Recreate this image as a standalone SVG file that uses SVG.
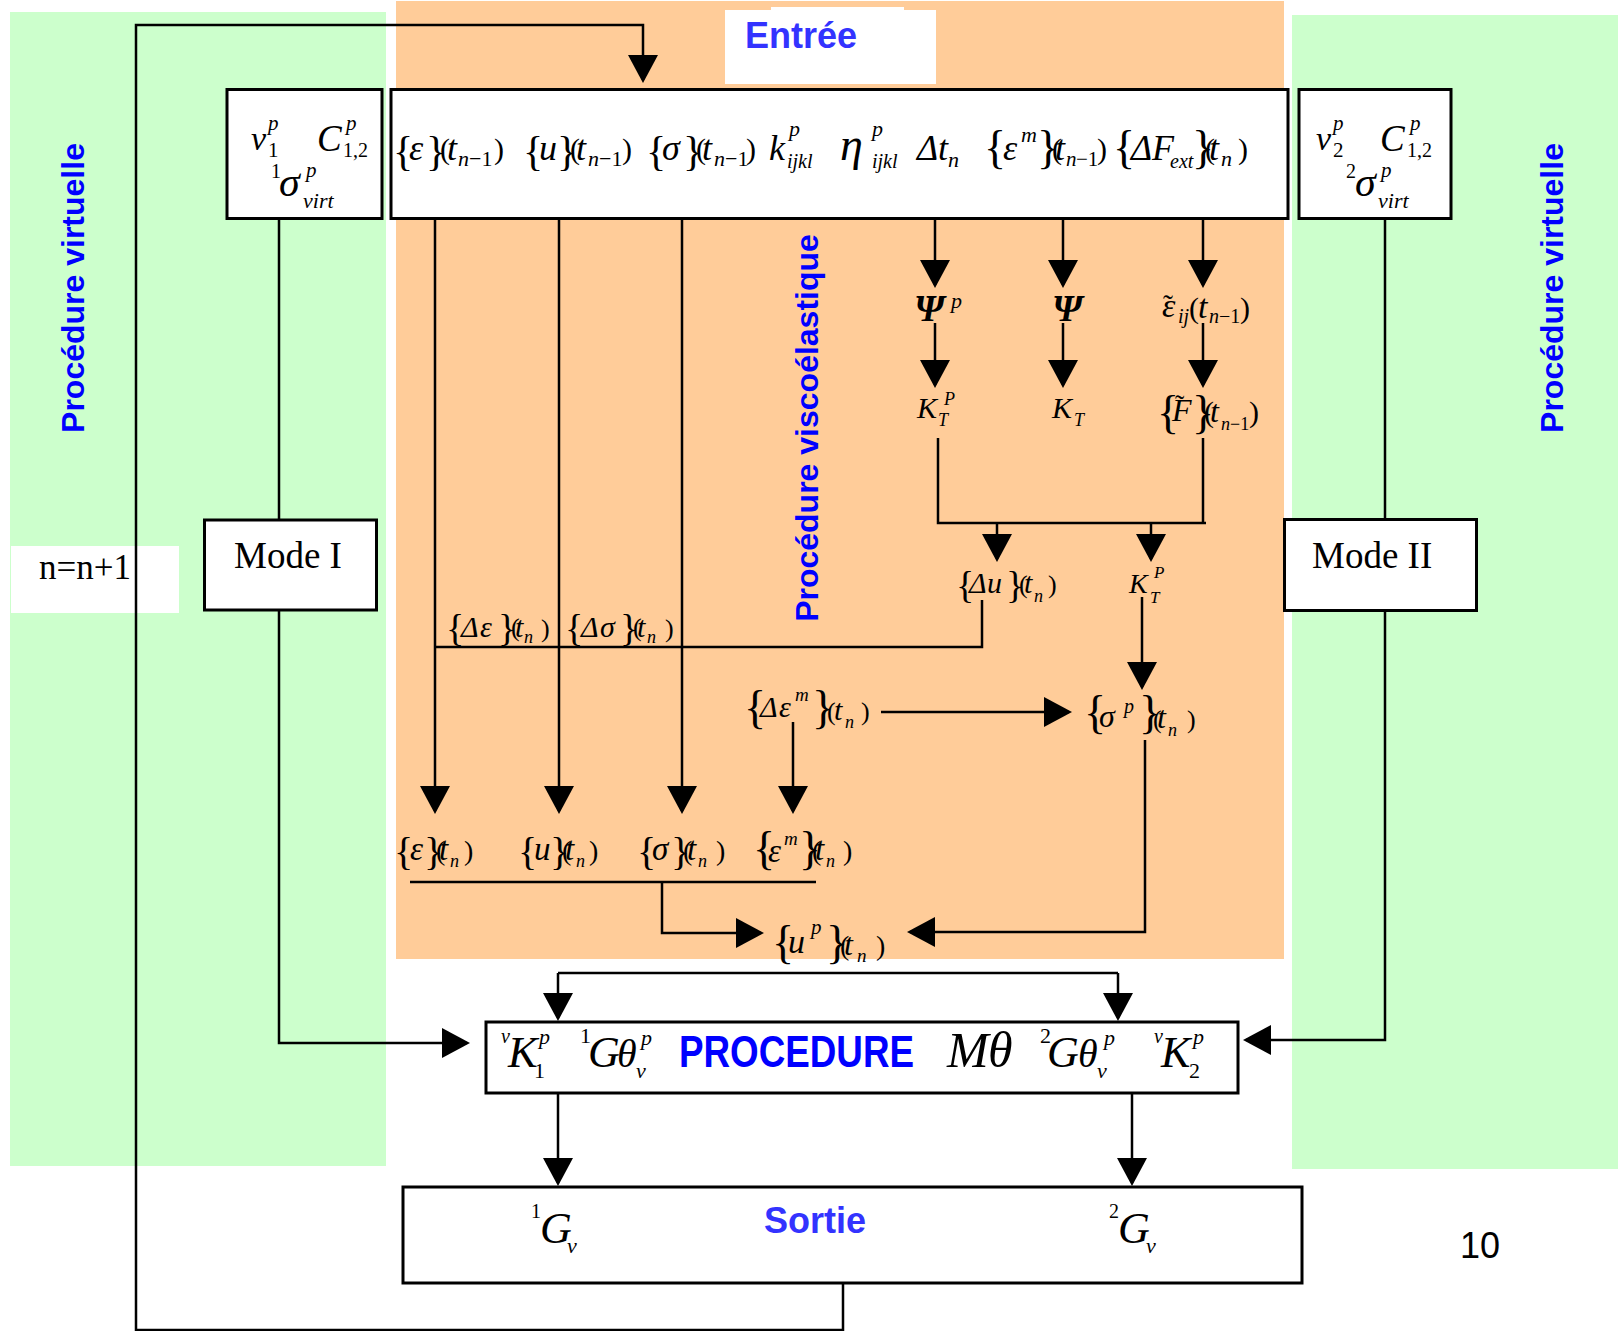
<svg xmlns="http://www.w3.org/2000/svg" width="1618" height="1331" viewBox="0 0 1618 1331">
<defs>
<style>
.green{fill:#ccffcc}
.orange{fill:#ffcc99}
.white{fill:#ffffff}
.box{fill:#ffffff;stroke:#000;stroke-width:3}
.ln{fill:none;stroke:#000;stroke-width:2.5}
.arw{marker-end:url(#ah)}
.m{font-family:"Liberation Serif","Times New Roman",serif;font-style:italic;fill:#000}
.u{font-style:normal}
.bd{font-weight:bold}
.rm{font-family:"Liberation Serif","Times New Roman",serif;fill:#000}
.ttl{font-family:"Liberation Sans",Arial,sans-serif;font-weight:bold}
.blue{fill:#0000ff}
.lblue{fill:#3333ff}
</style>
<marker id="ah" markerUnits="userSpaceOnUse" markerWidth="28" markerHeight="30" viewBox="0 0 28 30" refX="25" refY="15" orient="auto">
<path d="M0,0 L28,15 L0,30 z" fill="#000"/>
</marker>
</defs>

<!-- background panels -->
<g id="panels">
<rect class="green" x="10" y="12" width="376" height="1154"/>
<rect class="green" x="1292" y="15" width="326" height="1154"/>
<rect class="orange" x="396" y="1" width="888" height="958"/>
<rect class="white" x="725" y="10" width="211" height="74"/>
<rect class="white" x="771" y="7" width="133" height="4"/>
<rect class="white" x="11" y="546" width="168" height="67"/>
</g>

<!-- panel titles -->
<g id="titles">
<text class="ttl lblue" x="745" y="48" font-size="36">Entrée</text>
<text class="ttl blue" transform="translate(818,428) rotate(-90)" text-anchor="middle" font-size="32">Procédure viscoélastique</text>
<text class="ttl blue" transform="translate(84,288) rotate(-90)" text-anchor="middle" font-size="32">Procédure virtuelle</text>
<text class="ttl blue" transform="translate(1563,288) rotate(-90)" text-anchor="middle" font-size="32">Procédure virtuelle</text>
<text class="rm" x="39" y="579" font-size="35">n=n+1</text>
<text x="1460" y="1258" font-family="Liberation Sans, Arial, sans-serif" font-size="36">10</text>
</g>

<!-- connectors -->
<g id="connectors">
<path class="ln" d="M843,1284 V1330 H136 V25 H643 V80" stroke-width="3" marker-end="url(#ah)"/>
<path class="ln" d="M279,219 V519"/>
<path class="ln arw" d="M279,611 V1043 H467"/>
<path class="ln" d="M1385,219 V518"/>
<path class="ln arw" d="M1385,611 V1040 H1246"/>
<path class="ln arw" d="M435,219 V811"/>
<path class="ln arw" d="M559,219 V811"/>
<path class="ln arw" d="M682,219 V811"/>
<path class="ln arw" d="M793,722 V811"/>
<path class="ln arw" d="M935,219 V285"/>
<path class="ln arw" d="M1063,219 V285"/>
<path class="ln arw" d="M1203,219 V285"/>
<path class="ln arw" d="M935,323 V385"/>
<path class="ln arw" d="M1063,323 V385"/>
<path class="ln arw" d="M1203,323 V385"/>
<path class="ln" d="M938,438 V523 H1206"/>
<path class="ln" d="M1203,438 V523"/>
<path class="ln arw" d="M997,523 V559"/>
<path class="ln arw" d="M1151,523 V559"/>
<path class="ln" d="M982,600 V647 H435"/>
<path class="ln arw" d="M1142,597 V687"/>
<path class="ln arw" d="M881,712 H1069"/>
<path class="ln arw" d="M1145,740 V932 H910"/>
<path class="ln" d="M410,882 H816"/>
<path class="ln arw" d="M662,882 V933 H761"/>
<path class="ln" d="M558,973 H1118"/>
<path class="ln arw" d="M558,973 V1018"/>
<path class="ln arw" d="M1118,973 V1018"/>
<path class="ln arw" d="M558,1094 V1183"/>
<path class="ln arw" d="M1132,1094 V1183"/>
</g>

<!-- input data box -->
<g id="input">
<rect class="box" x="391" y="89.5" width="897" height="129"/>
<text class="m" font-size="36">
<tspan class="u" x="393" y="165" font-size="42">{</tspan><tspan x="409" y="160">ε</tspan><tspan class="u" x="426" y="165" font-size="42">}</tspan><tspan class="u" x="440" y="159" font-size="30">(</tspan><tspan x="447" y="160">t</tspan><tspan x="458" y="166" font-size="22">n</tspan><tspan class="u" x="469" y="166" font-size="22">−1</tspan><tspan class="u" x="494" y="159" font-size="30">)</tspan>
<tspan class="u" x="523" y="165" font-size="42">{</tspan><tspan x="539" y="160">u</tspan><tspan class="u" x="557" y="165" font-size="42">}</tspan><tspan class="u" x="570" y="159" font-size="30">(</tspan><tspan x="576" y="160">t</tspan><tspan x="588" y="166" font-size="22">n</tspan><tspan class="u" x="599" y="166" font-size="22">−1</tspan><tspan class="u" x="622" y="159" font-size="30">)</tspan>
<tspan class="u" x="646" y="165" font-size="42">{</tspan><tspan x="662" y="160">σ</tspan><tspan class="u" x="683" y="165" font-size="42">}</tspan><tspan class="u" x="696" y="159" font-size="30">(</tspan><tspan x="702" y="160">t</tspan><tspan x="714" y="166" font-size="22">n</tspan><tspan class="u" x="725" y="166" font-size="22">−1</tspan><tspan class="u" x="746" y="159" font-size="30">)</tspan>
<tspan x="769" y="160">k</tspan><tspan x="789" y="136" font-size="22">p</tspan><tspan x="787" y="168" font-size="20">ijkl</tspan>
<tspan x="840" y="160" font-size="46">η</tspan><tspan x="872" y="136" font-size="22">p</tspan><tspan x="872" y="168" font-size="20">ijkl</tspan>
<tspan x="917" y="160">Δ</tspan><tspan x="938" y="160">t</tspan><tspan x="948" y="167" font-size="22">n</tspan>
<tspan class="u" x="984" y="163" font-size="46">{</tspan><tspan x="1003" y="160">ε</tspan><tspan x="1021" y="142" font-size="22">m</tspan><tspan class="u" x="1037" y="163" font-size="46">}</tspan><tspan class="u" x="1052" y="159" font-size="30">(</tspan><tspan x="1055" y="160">t</tspan><tspan x="1066" y="166" font-size="21">n</tspan><tspan class="u" x="1076" y="166" font-size="21">−1</tspan><tspan class="u" x="1097" y="159" font-size="30">)</tspan>
<tspan class="u" x="1113" y="163" font-size="46">{</tspan><tspan x="1131" y="160">Δ</tspan><tspan x="1152" y="160">F</tspan><tspan x="1170" y="168" font-size="20">ext</tspan><tspan class="u" x="1192" y="163" font-size="46">}</tspan><tspan class="u" x="1205" y="159" font-size="30">(</tspan><tspan x="1209" y="160">t</tspan><tspan x="1221" y="166" font-size="22">n</tspan><tspan class="u" x="1238" y="159" font-size="30">)</tspan>
</text>
</g>

<!-- virtual-crack parameters, mode I -->
<g id="params-1">
<rect class="box" x="227" y="89.5" width="155" height="129"/>
<text class="m" font-size="34">
<tspan x="251" y="150">v</tspan><tspan x="268" y="130" font-size="21">p</tspan><tspan class="u" x="268" y="157" font-size="21">1</tspan>
<tspan x="317" y="151" font-size="37">C</tspan><tspan x="346" y="130" font-size="21">p</tspan><tspan class="u" x="343" y="157" font-size="20">1,2</tspan>
<tspan class="u" x="271" y="178" font-size="20">1</tspan><tspan x="279" y="196" font-size="42">σ</tspan><tspan x="306" y="177" font-size="21">p</tspan><tspan x="303" y="208" font-size="22">virt</tspan>
</text>
</g>

<!-- virtual-crack parameters, mode II -->
<g id="params-2">
<rect class="box" x="1299" y="89.5" width="152" height="129"/>
<text class="m" font-size="34">
<tspan x="1316" y="150">v</tspan><tspan x="1333" y="130" font-size="21">p</tspan><tspan class="u" x="1333" y="157" font-size="21">2</tspan>
<tspan x="1380" y="151" font-size="37">C</tspan><tspan x="1410" y="130" font-size="21">p</tspan><tspan class="u" x="1407" y="157" font-size="20">1,2</tspan>
<tspan class="u" x="1346" y="178" font-size="20">2</tspan><tspan x="1355" y="196" font-size="42">σ</tspan><tspan x="1381" y="177" font-size="21">p</tspan><tspan x="1378" y="208" font-size="22">virt</tspan>
</text>
</g>

<g id="mode-1">
<rect class="box" x="204.5" y="520" width="172" height="90"/>
<text class="rm" x="234" y="568" font-size="37">Mode I</text>
</g>

<g id="mode-2">
<rect class="box" x="1284.5" y="519.5" width="192" height="91"/>
<text class="rm" x="1312" y="568" font-size="37">Mode II</text>
</g>

<!-- viscoelastic intermediate quantities -->
<g id="psi-p"><text class="m" font-size="38"><tspan class="bd" x="914" y="321">Ψ</tspan><tspan x="951" y="308" font-size="22">p</tspan></text></g>
<g id="psi"><text class="m bd" x="1052" y="321" font-size="38">Ψ</text></g>
<g id="eps-tilde"><text class="m" font-size="34"><tspan x="1162" y="317">ε</tspan><tspan class="u" x="1163" y="315" font-size="30">˜</tspan><tspan x="1178" y="323" font-size="20">ij</tspan><tspan class="u" x="1189" y="318" font-size="30">(</tspan><tspan x="1198" y="318">t</tspan><tspan x="1209" y="323" font-size="20">n</tspan><tspan class="u" x="1219" y="323" font-size="20">−1</tspan><tspan class="u" x="1240" y="318" font-size="30">)</tspan></text></g>
<g id="kt-p"><text class="m" font-size="30"><tspan x="917" y="418">K</tspan><tspan x="944" y="405" font-size="18">P</tspan><tspan x="938" y="426" font-size="18">T</tspan></text></g>
<g id="kt"><text class="m" font-size="30"><tspan x="1052" y="418">K</tspan><tspan x="1074" y="426" font-size="18">T</tspan></text></g>
<g id="f-tilde"><text class="m" font-size="32"><tspan class="u" x="1157" y="428" font-size="46">{</tspan><tspan x="1172" y="421">F</tspan><tspan class="u" x="1175" y="414" font-size="28">˜</tspan><tspan class="u" x="1192" y="428" font-size="46">}</tspan><tspan class="u" x="1204" y="422" font-size="30">(</tspan><tspan x="1210" y="422">t</tspan><tspan x="1221" y="430" font-size="18">n</tspan><tspan class="u" x="1230" y="430" font-size="18">−1</tspan><tspan class="u" x="1249" y="422" font-size="30">)</tspan></text></g>
<g id="delta-u"><text class="m" font-size="30"><tspan class="u" x="956" y="598" font-size="38">{</tspan><tspan x="969" y="593">Δ</tspan><tspan x="987" y="593">u</tspan><tspan class="u" x="1006" y="598" font-size="38">}</tspan><tspan class="u" x="1019" y="593" font-size="26">(</tspan><tspan x="1024" y="593">t</tspan><tspan x="1034" y="602" font-size="18">n</tspan><tspan class="u" x="1048" y="593" font-size="26">)</tspan></text></g>
<g id="kt-p2"><text class="m" font-size="28"><tspan x="1129" y="593">K</tspan><tspan x="1154" y="578" font-size="17">P</tspan><tspan x="1150" y="603" font-size="17">T</tspan></text></g>
<g id="delta-eps"><text class="m" font-size="30"><tspan class="u" x="446" y="641" font-size="38">{</tspan><tspan x="461" y="637">Δ</tspan><tspan x="480" y="637">ε</tspan><tspan class="u" x="498" y="641" font-size="38">}</tspan><tspan class="u" x="511" y="636" font-size="26">(</tspan><tspan x="515" y="637">t</tspan><tspan x="524" y="643" font-size="18">n</tspan><tspan class="u" x="541" y="637" font-size="26">)</tspan></text></g>
<g id="delta-sigma"><text class="m" font-size="30"><tspan class="u" x="565" y="641" font-size="38">{</tspan><tspan x="581" y="637">Δ</tspan><tspan x="600" y="637">σ</tspan><tspan class="u" x="620" y="641" font-size="38">}</tspan><tspan class="u" x="633" y="636" font-size="26">(</tspan><tspan x="637" y="637">t</tspan><tspan x="647" y="643" font-size="18">n</tspan><tspan class="u" x="665" y="637" font-size="26">)</tspan></text></g>
<g id="delta-eps-m"><text class="m" font-size="30"><tspan class="u" x="744" y="723" font-size="46">{</tspan><tspan x="760" y="717">Δ</tspan><tspan x="779" y="717">ε</tspan><tspan x="795" y="701" font-size="19">m</tspan><tspan class="u" x="812" y="723" font-size="46">}</tspan><tspan class="u" x="827" y="720" font-size="26">(</tspan><tspan x="834" y="720">t</tspan><tspan x="845" y="728" font-size="18">n</tspan><tspan class="u" x="861" y="720" font-size="26">)</tspan></text></g>
<g id="sigma-p"><text class="m" font-size="32"><tspan class="u" x="1084" y="728" font-size="46">{</tspan><tspan x="1099" y="727">σ</tspan><tspan x="1124" y="713" font-size="20">p</tspan><tspan class="u" x="1139" y="728" font-size="46">}</tspan><tspan class="u" x="1153" y="728" font-size="26">(</tspan><tspan x="1157" y="728">t</tspan><tspan x="1168" y="736" font-size="18">n</tspan><tspan class="u" x="1187" y="728" font-size="26">)</tspan></text></g>

<!-- updated fields at t_n -->
<g id="eps-n"><text class="m" font-size="33"><tspan class="u" x="394" y="865" font-size="40">{</tspan><tspan x="410" y="860">ε</tspan><tspan class="u" x="424" y="865" font-size="40">}</tspan><tspan class="u" x="436" y="860" font-size="28">(</tspan><tspan x="439" y="860">t</tspan><tspan x="450" y="867" font-size="18">n</tspan><tspan class="u" x="464" y="860" font-size="28">)</tspan></text></g>
<g id="u-n"><text class="m" font-size="33"><tspan class="u" x="518" y="865" font-size="40">{</tspan><tspan x="534" y="860">u</tspan><tspan class="u" x="550" y="865" font-size="40">}</tspan><tspan class="u" x="562" y="860" font-size="28">(</tspan><tspan x="565" y="860">t</tspan><tspan x="576" y="867" font-size="18">n</tspan><tspan class="u" x="589" y="860" font-size="28">)</tspan></text></g>
<g id="sigma-n"><text class="m" font-size="33"><tspan class="u" x="637" y="865" font-size="40">{</tspan><tspan x="652" y="860">σ</tspan><tspan class="u" x="671" y="865" font-size="40">}</tspan><tspan class="u" x="683" y="860" font-size="28">(</tspan><tspan x="687" y="860">t</tspan><tspan x="698" y="867" font-size="18">n</tspan><tspan class="u" x="716" y="860" font-size="28">)</tspan></text></g>
<g id="eps-m-n"><text class="m" font-size="33"><tspan class="u" x="753" y="864" font-size="46">{</tspan><tspan x="768" y="862">ε</tspan><tspan x="784" y="845" font-size="19">m</tspan><tspan class="u" x="799" y="864" font-size="46">}</tspan><tspan class="u" x="812" y="860" font-size="28">(</tspan><tspan x="815" y="860">t</tspan><tspan x="826" y="867" font-size="18">n</tspan><tspan class="u" x="843" y="860" font-size="28">)</tspan></text></g>
<g id="u-p-n"><text class="m" font-size="34"><tspan class="u" x="772" y="958" font-size="46">{</tspan><tspan x="788" y="953">u</tspan><tspan x="811" y="934" font-size="21">p</tspan><tspan class="u" x="826" y="958" font-size="46">}</tspan><tspan class="u" x="840" y="955" font-size="28">(</tspan><tspan x="844" y="955" font-size="32">t</tspan><tspan x="857" y="962" font-size="19">n</tspan><tspan class="u" x="876" y="955" font-size="28">)</tspan></text></g>

<!-- M-theta procedure -->
<g id="m-theta">
<rect class="box" x="486" y="1022" width="752" height="71"/>
<text class="m" font-size="44">
<tspan x="501" y="1043" font-size="20">v</tspan><tspan x="508" y="1067">K</tspan><tspan x="539" y="1044" font-size="22">p</tspan><tspan class="u" x="534" y="1078" font-size="22">1</tspan>
<tspan class="u" x="580" y="1043" font-size="22">1</tspan><tspan x="588" y="1067">G</tspan><tspan x="617" y="1067" font-size="40">θ</tspan><tspan x="641" y="1045" font-size="22">p</tspan><tspan x="636" y="1078" font-size="22">v</tspan>
<tspan x="947" y="1067" font-size="50">M</tspan><tspan x="988" y="1067" font-size="50">θ</tspan>
<tspan class="u" x="1040" y="1043" font-size="22">2</tspan><tspan x="1047" y="1067">G</tspan><tspan x="1078" y="1067" font-size="40">θ</tspan><tspan x="1104" y="1045" font-size="22">p</tspan><tspan x="1097" y="1078" font-size="22">v</tspan>
<tspan x="1154" y="1043" font-size="20">v</tspan><tspan x="1161" y="1067">K</tspan><tspan x="1193" y="1044" font-size="22">p</tspan><tspan class="u" x="1189" y="1078" font-size="22">2</tspan>
</text>
<text class="ttl blue" x="679" y="1067" font-size="44" textLength="235" lengthAdjust="spacingAndGlyphs">PROCEDURE</text>
</g>

<!-- output box -->
<g id="output">
<rect class="box" x="403" y="1187" width="899" height="96" stroke-width="2.5"/>
<text class="m" font-size="44">
<tspan class="u" x="531" y="1218" font-size="20">1</tspan><tspan x="540" y="1243">G</tspan><tspan x="567" y="1253" font-size="22">v</tspan>
<tspan class="u" x="1109" y="1218" font-size="20">2</tspan><tspan x="1118" y="1243">G</tspan><tspan x="1146" y="1253" font-size="22">v</tspan>
</text>
<text class="ttl lblue" x="764" y="1233" font-size="36">Sortie</text>
</g>
</svg>
